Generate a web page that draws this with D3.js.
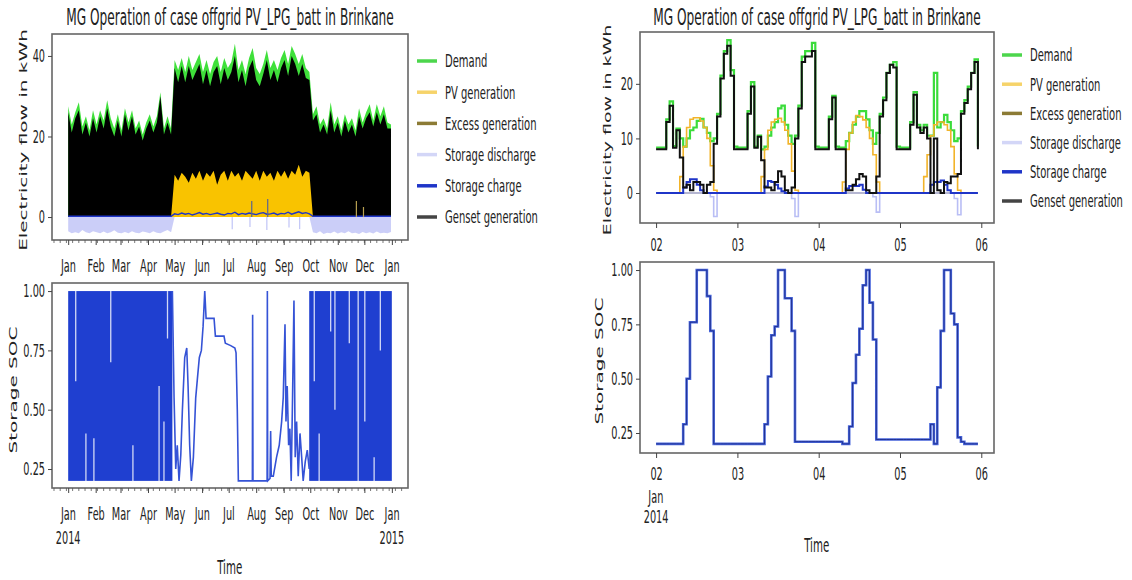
<!DOCTYPE html>
<html>
<head lang="en">
    <meta charset="UTF-8">
    <title></title>
    <script src="https://cdnjs.cloudflare.com/ajax/libs/d3/7.8.5/d3.min.js"></script>
    <style>
        body { margin: 0; background: #fff; }
        text { font-family: "DejaVu Sans", sans-serif; fill: #222; }
    </style>
</head>
<body>

<script>

    // ---------- data ----------
    var seriesNames = ["Demand", "PV generation", "Excess generation", "Storage discharge", "Storage charge", "Genset generation"];
    var chartTitle = "MG Operation of case offgrid PV_LPG_batt in Brinkane";
    var monthLabels = ["Jan", "Feb", "Mar", "Apr", "May", "Jun", "Jul", "Aug", "Sep", "Oct", "Nov", "Dec", "Jan"];
    var dayLabels = ["02", "03", "04", "05", "06"];
    var flowTicksYear = [0, 20, 40];
    var flowTicksWeek = [0, 10, 20];
    var socTicks = [0.25, 0.5, 0.75, 1.0];

    // whole year 2014, one sample every 4 days (day 0 = 1 Jan)
    var yearStep = 4;
    var yearDemand = [
        27.5, 23, 26, 28.5, 22.5, 25, 21.5, 26.5, 23, 26.5,
        24, 29, 24.5, 22, 25.5, 21.5, 27, 23.5, 26.5, 22,
        24, 20.5, 23.5, 25.5, 22.5, 25, 31, 22, 25, 22,
        39, 36.5, 39.5, 36, 40, 36.5, 38.5, 40.5, 36, 39,
        35.5, 38.5, 40, 36, 39.5, 37, 38.5, 43, 36.5, 39,
        35.5, 39.5, 42, 37, 35.5, 38, 41.5, 37, 39, 36.5,
        39.5, 41.5, 38, 42.5, 40.5, 38, 40.5, 37, 36, 25.5,
        27.5, 23, 24.5, 22, 28.5, 23, 25, 21.5, 25.5, 23,
        24.5, 21.5, 27, 23.5, 26, 28, 24, 28, 25, 27.5,
        23.5, 23
    ];
    var yearGenset = [
        26, 21, 24.5, 26.5, 20.5, 23.5, 20, 24.5, 21, 25,
        22, 27, 22.5, 20, 24, 20, 25.5, 21.5, 25, 20.5,
        22.5, 19, 22, 24, 21, 23.5, 30, 20.5, 23.5, 20.5,
        37, 33.5, 37.5, 33.5, 37.5, 34, 36, 38, 33, 36.5,
        32.5, 36, 37.5, 33, 37, 34, 36, 40, 33.5, 36.5,
        32.5, 37, 39, 34, 32.5, 35.5, 39, 34, 36.5, 33.5,
        37, 39, 35, 40, 38, 35, 38, 34.5, 34, 24,
        25.5, 21, 23, 20.5, 26.5, 21, 23.5, 20, 24, 21,
        23, 20, 25, 22, 24.5, 26, 22.5, 26, 23, 25.5,
        22, 22
    ];
    var yearPV = [
        0, 0, 0, 0, 0, 0, 0, 0, 0, 0,
        0, 0, 0, 0, 0, 0, 0, 0, 0, 0,
        0, 0, 0, 0, 0, 0, 0, 0, 0, 0,
        10.5, 9, 11, 10, 8.5, 11, 9.5, 11.5, 9, 11,
        10, 11.5, 8, 10.5, 11.5, 9, 11.5, 10, 11, 9,
        11.5, 10.5, 9.5, 11.5, 9, 11.5, 10, 11, 9, 11.5,
        10, 11.5, 9.5, 11.5, 10.5, 13, 10, 11.5, 11, 0,
        0, 0, 0, 0, 0, 0, 0, 0, 0, 0,
        0, 0, 0, 0, 0, 0, 0, 0, 0, 0,
        0, 0
    ];
    var yearDischarge = [
        -3.5, -4, -3.8, -4, -3.2, -3.8, -4, -3.5, -3.8, -4,
        -3.6, -4, -3.8, -3.3, -3.9, -4, -3.7, -4, -3.5, -3.9,
        -4, -3.6, -3.8, -4, -3.5, -3.9, -4, -3.6, -3.2, -3.8,
        0, 0, 0, 0, 0, 0, 0, 0, 0, 0,
        0, 0, 0, 0, 0, 0, 0, 0, 0, 0,
        0, 0, 0, 0, 0, 0, 0, 0, 0, 0,
        0, 0, 0, 0, 0, 0, 0, 0, 0, -3.8,
        -4, -3.5, -4.2, -3.9, -4, -3.6, -4.1, -3.8, -4, -3.5,
        -4, -3.9, -4.2, -3.7, -4, -3.8, -4.1, -3.6, -4, -3.9,
        -4, -3.7
    ];
    var yearCharge = [
        0.2, 0.2, 0.2, 0.2, 0.2, 0.2, 0.2, 0.2, 0.2, 0.2,
        0.2, 0.2, 0.2, 0.2, 0.2, 0.2, 0.2, 0.2, 0.2, 0.2,
        0.2, 0.2, 0.2, 0.2, 0.2, 0.2, 0.2, 0.2, 0.2, 0.2,
        0.8, 0.6, 1, 0.7, 0.9, 0.5, 0.8, 1.1, 0.7, 0.9,
        0.6, 0.8, 1, 0.7, 0.5, 0.9, 0.8, 1.2, 0.6, 0.9,
        0.7, 1, 0.8, 0.6, 0.9, 1.1, 0.7, 0.8, 1, 0.6,
        0.9, 0.8, 1.2, 0.7, 1, 1.3, 0.9, 1.1, 0.8, 0.2,
        0.2, 0.2, 0.2, 0.2, 0.2, 0.2, 0.2, 0.2, 0.2, 0.2,
        0.2, 0.2, 0.2, 0.2, 0.2, 0.2, 0.2, 0.2, 0.2, 0.2,
        0.2, 0.2
    ];
    // single hours that stick out: [day of year, kWh]
    var yearDischargeSpikes = [[185, -3], [205, -2.5], [224, -3.2], [249, -2.6], [261, -3]];
    var yearChargeSpikes = [[207, 4], [225, 4.5]];
    var yearExcessSpikes = [[325, 4], [333, 2.5]];

    // storage SOC over the year
    var socBlocks = [[0, 117.5], [271.8, 364.96]];   // days where SOC swings 0.2 <-> 1.0 every day
    var socBlockRange = [0.2, 1.0];
    var socGaps = [   // [day, low, high] where the daily swing stayed short
        [8.5, 0.62, 1.0], [20, 0.2, 0.40], [29, 0.2, 0.38], [48, 0.70, 1.0], [73, 0.2, 0.35],
        [102.5, 0.2, 0.6], [108, 0.2, 0.45], [112, 0.8, 1.0],
        [277.5, 0.62, 1.0], [283, 0.2, 0.4], [296, 0.83, 1.0], [300.8, 0.5, 1.0], [317, 0.78, 1.0],
        [327, 0.2, 1.0], [334.5, 0.45, 1.0], [345, 0.2, 0.3], [352, 0.75, 1.0]
    ];
    var socSummer = [
        [117.5, 1.0], [119.4, 0.55], [121.3, 0.25], [123, 0.35], [125, 0.2], [127, 0.31], [128.8, 0.5],
        [131.4, 0.72], [133.7, 0.76], [135.2, 0.6], [137, 0.35], [138.9, 0.2], [141.2, 0.3], [143.8, 0.55],
        [145.7, 0.63], [147.9, 0.72], [150.2, 0.75], [152.1, 0.85], [154, 1.0], [155.5, 0.885], [164.5, 0.885],
        [166, 0.81], [175.7, 0.81], [177.2, 0.78], [183.3, 0.77], [188, 0.76], [189.3, 0.74], [190.7, 0.5],
        [191.9, 0.2], [207.7, 0.2], [208, 0.9], [208.4, 0.2], [224.3, 0.2], [224.6, 1.0], [225, 0.2],
        [227.6, 0.21], [228.3, 0.41], [229, 0.22], [231.3, 0.22], [235, 0.3], [238, 0.35], [240.7, 0.45],
        [242.5, 0.55], [244.5, 0.86], [245.6, 0.45], [247, 0.6], [248.6, 0.35], [250, 0.42], [251.5, 0.2],
        [253, 0.55], [254.6, 0.96], [256, 0.3], [257.6, 0.45], [259.4, 0.22], [261.4, 0.4], [263.3, 0.3],
        [265, 0.2], [267.3, 0.28], [269.6, 0.33], [271.8, 0.25]
    ];

    // 2 Jan 00:00 to 5 Jan 23:00, hourly
    var weekDemand = [
        8.3, 8.3, 8.3, 13.5, 16.8, 8.6, 11.8, 10, 8.5, 10, 11.5, 12, 13.2, 13.6, 12, 11, 9.5, 10, 14.5, 21.5, 26, 28, 22.5, 8.5,
        8.3, 8.3, 8.3, 15, 20.3, 8.5, 10.5, 8, 8.5, 10.5, 12, 13, 15.5, 16, 12.5, 10.5, 9, 10.5, 16, 25, 26, 26, 27.5, 8.5,
        8.3, 8.3, 8.3, 14, 17.8, 8.5, 8.3, 8.3, 9.5, 11, 12.5, 14, 15, 15, 13.5, 11.5, 9, 11, 14.5, 17.5, 22, 23.5, 24, 8.5,
        8.3, 8.3, 8.3, 13, 18.5, 12.5, 11.5, 12.5, 10.5, 10.5, 22, 12, 13, 14.3, 13, 11.5, 9.5, 10, 15, 17, 19.5, 22, 24.5, 8.5
    ];
    var weekPV = [
        0, 0, 0, 0, 0, 0, 0, 3, 8.5, 12, 13.5, 13.8, 13.8, 13.2, 12, 10, 5, 0.5, 0, 0, 0, 0, 0, 0,
        0, 0, 0, 0, 0, 0, 0, 3, 8, 11.5, 13, 13.5, 13.7, 13, 11.5, 9, 4, 0.5, 0, 0, 0, 0, 0, 0,
        0, 0, 0, 0, 0, 0, 0, 2, 8, 11, 13, 14.2, 14, 13.4, 12, 10, 7, 2, 0, 0, 0, 0, 0, 0,
        0, 0, 0, 0, 0, 0, 0, 3, 7, 10.5, 12.5, 13, 13, 12.5, 11.5, 8.5, 3.5, 0.5, 0, 0, 0, 0, 0, 0
    ];
    var weekExcess = [
        0, 0, 0, 0, 0, 0, 0, 0, 0, 0, 0, 0, 0, 0, 0, 0, 0, 0, 0, 0, 0, 0, 0, 0,
        0, 0, 0, 0, 0, 0, 0, 0, 0, 0, 0, 0, 0, 0, 0, 0, 0, 0, 0, 0, 0, 0, 0, 0,
        0, 0, 0, 0, 0, 0, 0, 0, 0, 0, 0, 0, 0, 0, 0, 0, 0, 0, 0, 0, 0, 0, 0, 0,
        0, 0, 0, 0, 0, 0, 0, 0, 0, 0, 0, 0, 0, 0, 0, 0, 0, 0, 0, 0, 0, 0, 0, 0
    ];
    var weekDischarge = [
        0, 0, 0, 0, 0, 0, 0, 0, 0, 0, 0, 0, 0, 0, 0, 0, -0.7, -4.3, 0, 0, 0, 0, 0, 0,
        0, 0, 0, 0, 0, 0, 0, 0, 0, 0, 0, 0, 0, 0, 0, 0, -1, -4.3, 0, 0, 0, 0, 0, 0,
        0, 0, 0, 0, 0, 0, 0, 0, 0, 0, 0, 0, 0, 0, 0, 0, -0.7, -3.5, 0, 0, 0, 0, 0, 0,
        0, 0, 0, 0, 0, 0, 0, 0, 0, 0, 0, 0, 0, 0, 0, 0, -1, -4, 0, 0, 0, 0, 0, 0
    ];
    var weekCharge = [
        0, 0, 0, 0, 0, 0, 0, 0, 1, 2, 2.5, 2.5, 1.5, 0.5, 0, 0, 0, 0, 0, 0, 0, 0, 0, 0,
        0, 0, 0, 0, 0, 0, 0, 0, 1.2, 2.2, 2, 1.5, 0.8, 0.3, 0, 0, 0, 0, 0, 0, 0, 0, 0, 0,
        0, 0, 0, 0, 0, 0, 0, 0, 0.8, 1.3, 1.3, 1.3, 1.5, 0.6, 0, 0, 0, 0, 0, 0, 0, 0, 0, 0,
        0, 0, 0, 0, 0, 0, 0, 0, 0, 1.5, 2, 2, 2.3, 1.5, 0.5, 0, 0, 0, 0, 0, 0, 0, 0, 0
    ];
    var weekGenset = [
        8, 8, 8, 13, 16, 8.3, 11.5, 6.5, 1, 1.5, 0.5, 2, 2, 1.5, 0, 1.5, 2, 9, 14, 21, 25.5, 27, 21.5, 8,
        8, 8, 8, 14.5, 19.5, 8.3, 10.3, 6, 1, 1, 0.5, 2, 4, 3, 0.5, 0, 1, 10, 15.5, 24, 25, 25, 26, 8,
        8, 8, 8, 13.5, 17.5, 8, 8, 8, 0.5, 0.5, 1.5, 2.5, 3.5, 3, 0.5, 0, 0, 3, 14, 17, 22, 23.5, 23, 8,
        8, 8, 8, 12.5, 18, 12, 11, 12, 10, 0, 10, 0.5, 0, 2, 1.8, 3, 3, 3.5, 14.5, 16.5, 19, 22, 24, 8
    ];
    var weekSOC = [
        0.2, 0.2, 0.2, 0.2, 0.2, 0.2, 0.2, 0.2, 0.29, 0.5, 0.76, 0.76, 1, 1, 1, 0.88, 0.72, 0.2, 0.2, 0.2, 0.2, 0.2, 0.2, 0.2,
        0.2, 0.2, 0.2, 0.2, 0.2, 0.2, 0.2, 0.2, 0.29, 0.51, 0.7, 0.74, 1, 1, 0.87, 0.87, 0.72, 0.21, 0.21, 0.21, 0.21, 0.21, 0.21, 0.21,
        0.21, 0.21, 0.21, 0.21, 0.21, 0.21, 0.21, 0.2, 0.2, 0.28, 0.48, 0.61, 0.73, 0.93, 1, 0.85, 0.68, 0.22, 0.22, 0.22, 0.22, 0.22, 0.22, 0.22,
        0.22, 0.22, 0.22, 0.22, 0.22, 0.22, 0.22, 0.22, 0.22, 0.29, 0.2, 0.46, 0.72, 1, 1, 0.8, 0.75, 0.23, 0.21, 0.2, 0.2, 0.2, 0.2, 0.2
    ];

    // ---------- styles ----------
    var lineColors = ["#3bdc3b", "#f2b42a", "#8c7b35", "#b9bef5", "#1f35c8", "#111111"];
    var legendColors = ["#4cd64c", "#f6d36a", "#8c7b35", "#d3d6f7", "#1f35c8", "#444444"];
    var K = 0.54;   // the picture is squeezed sideways, so is every label

    var yearStart = new Date(2014, 0, 1);
    var weekStart = new Date(2014, 0, 2);
    function dayToDate(d) { return new Date(yearStart.getTime() + d * 864e5); }
    function hourToDate(h) { return new Date(weekStart.getTime() + h * 36e5); }

    var svg = d3.select("body").append("svg")
            .attr("width", 1132)
            .attr("height", 580)
            .style("background", "#fff");

    function squeeze(sel, origin) {
        sel.style("transform-box", "fill-box")
           .style("transform-origin", origin)
           .style("transform", "scaleX(" + K + ")");
    }

    // ---------- scales ----------
    var xYear = d3.scaleTime().domain([dayToDate(-18.25), dayToDate(383.2)]).range([52, 408]);
    var yFlowYear = d3.scaleLinear().domain([-5.7, 45.45]).range([240, 34]);
    var ySocYear = d3.scaleLinear().domain([0.17, 1.034]).range([488, 283]);
    var xWeek = d3.scaleTime().domain([hourToDate(-4.75), hourToDate(99.75)]).range([640, 994]);
    var yFlowWeek = d3.scaleLinear().domain([-5.5, 29.5]).range([223, 32]);
    var ySocWeek = d3.scaleLinear().domain([0.158, 1.037]).range([453, 262]);

    function yearX(d, i) { return xYear(dayToDate(i * yearStep)); }

    // ---------- left top: flows over the year ----------
    function yearArea(values, color, opacity) {
        svg.append("path")
            .datum(values)
            .attr("d", d3.area().x(yearX).y0(yFlowYear(0)).y1(function(d){ return yFlowYear(d); }))
            .attr("fill", color)
            .attr("fill-opacity", opacity);
    }
    yearArea(yearDemand, "#3fe03a", 1);
    yearArea(yearGenset, "#000000", 1);
    yearArea(yearPV, "#f9c300", 1);
    yearArea(yearDischarge, "#c5c9f7", 0.9);

    svg.append("path")
        .datum(yearCharge)
        .attr("d", d3.line().x(yearX).y(function(d){ return yFlowYear(d); }))
        .attr("fill", "none")
        .attr("stroke", "#1f35c8")
        .attr("stroke-width", 1.4);

    function spikes(list, color, width) {
        svg.selectAll(null)
            .data(list)
            .enter()
            .append("line")
            .attr("x1", function(d){ return xYear(dayToDate(d[0])); })
            .attr("x2", function(d){ return xYear(dayToDate(d[0])); })
            .attr("y1", yFlowYear(0))
            .attr("y2", function(d){ return yFlowYear(d[1]); })
            .attr("stroke", color)
            .attr("stroke-width", width);
    }
    spikes(yearDischargeSpikes, "#c5c9f7", 1.3);
    spikes(yearChargeSpikes, "#5a6590", 1.2);
    spikes(yearExcessSpikes, "#b8a050", 1.2);

    // ---------- left bottom: SOC over the year ----------
    svg.selectAll(null)
        .data(socBlocks)
        .enter()
        .append("rect")
        .attr("x", function(d){ return xYear(dayToDate(d[0])); })
        .attr("width", function(d){ return xYear(dayToDate(d[1])) - xYear(dayToDate(d[0])); })
        .attr("y", ySocYear(socBlockRange[1]))
        .attr("height", ySocYear(socBlockRange[0]) - ySocYear(socBlockRange[1]))
        .attr("fill", "#1f3fd0");

    svg.selectAll(null)
        .data(socGaps)
        .enter()
        .append("line")
        .attr("x1", function(d){ return xYear(dayToDate(d[0])); })
        .attr("x2", function(d){ return xYear(dayToDate(d[0])); })
        .attr("y1", function(d){ return ySocYear(d[1]); })
        .attr("y2", function(d){ return ySocYear(d[2]); })
        .attr("stroke", "#ffffff")
        .attr("stroke-opacity", 0.8)
        .attr("stroke-width", 1.3);

    svg.append("path")
        .datum(socSummer)
        .attr("d", d3.line().x(function(d){ return xYear(dayToDate(d[0])); }).y(function(d){ return ySocYear(d[1]); }))
        .attr("fill", "none")
        .attr("stroke", "#3553d6")
        .attr("stroke-width", 1.6);

    // ---------- right top: flows over four days ----------
    var weekSeries = [weekDemand, weekPV, weekExcess, weekDischarge, weekCharge, weekGenset];
    var weekWidths = [2.2, 1.6, 1.5, 1.6, 2, 2];
    var weekLine = d3.line()
            .curve(d3.curveStepAfter)
            .x(function(d, i){ return xWeek(hourToDate(i)); })
            .y(function(d){ return yFlowWeek(d); });
    weekSeries.forEach(function(values, k){
        svg.append("path")
            .datum(values)
            .attr("d", weekLine)
            .attr("fill", "none")
            .attr("stroke", lineColors[k])
            .attr("stroke-width", weekWidths[k]);
    });

    // ---------- right bottom: SOC over four days ----------
    var socLine = d3.line()
            .curve(d3.curveStepAfter)
            .x(function(d, i){ return xWeek(hourToDate(i)); })
            .y(function(d){ return ySocWeek(d); });
    svg.append("path").datum(weekSOC).attr("d", socLine)
        .attr("fill", "none").attr("stroke", "#4866dc").attr("stroke-width", 2.6);
    svg.append("path").datum(weekSOC).attr("d", socLine)
        .attr("fill", "none").attr("stroke", "#1d2c8c").attr("stroke-width", 0.9);

    // ---------- frames and axes ----------
    function frame(x0, y0, x1, y1) {
        svg.append("rect")
            .attr("x", x0).attr("y", y0)
            .attr("width", x1 - x0).attr("height", y1 - y0)
            .attr("fill", "none")
            .attr("stroke", "#666")
            .attr("stroke-width", 1.6);
    }
    frame(52, 34, 408, 240);
    frame(52, 283, 408, 488);
    frame(640, 32, 994, 223);
    frame(640, 262, 994, 453);

    var monthTicks = d3.timeMonth.range(new Date(2014, 0, 1), new Date(2015, 0, 2));
    var dayTicks = d3.timeDay.range(new Date(2014, 0, 2), new Date(2014, 0, 7));
    var weekMinor = d3.timeMonday.range(dayToDate(-18), dayToDate(383));

    function bottomAxis(scale, y, values, labels, padding) {
        var g = svg.append("g")
                .attr("transform", "translate(0," + y + ")")
                .call(d3.axisBottom(scale)
                    .tickValues(values)
                    .tickFormat(function(d, i){ return labels[i]; })
                    .tickSize(5)
                    .tickPadding(padding));
        g.select(".domain").remove();
        g.selectAll("line").attr("stroke", "#444");
        g.selectAll("text").attr("font-size", 18).call(squeeze, "center");
    }
    function minorTicks(y) {
        svg.selectAll(null)
            .data(weekMinor)
            .enter()
            .append("line")
            .attr("x1", function(d){ return xYear(d); })
            .attr("x2", function(d){ return xYear(d); })
            .attr("y1", y)
            .attr("y2", y + 3)
            .attr("stroke", "#555")
            .attr("stroke-width", 0.8);
    }
    function leftAxis(scale, x, values, fmt) {
        var g = svg.append("g")
                .attr("transform", "translate(" + x + ",0)")
                .call(d3.axisLeft(scale).tickValues(values).tickFormat(fmt).tickSize(4).tickPadding(3));
        g.select(".domain").remove();
        g.selectAll("line").attr("stroke", "#444");
        g.selectAll("text").attr("font-size", 18).call(squeeze, "right center");
    }

    minorTicks(240);
    minorTicks(488);
    bottomAxis(xYear, 240, monthTicks, monthLabels, 14);
    bottomAxis(xYear, 488, monthTicks, monthLabels, 14);
    bottomAxis(xWeek, 223, dayTicks, dayLabels, 10);
    bottomAxis(xWeek, 453, dayTicks, dayLabels, 9);
    leftAxis(yFlowYear, 52, flowTicksYear, d3.format("d"));
    leftAxis(ySocYear, 52, socTicks, d3.format(".2f"));
    leftAxis(yFlowWeek, 640, flowTicksWeek, d3.format("d"));
    leftAxis(ySocWeek, 640, socTicks, d3.format(".2f"));

    // second line of the date labels
    function label(x, y, txt, size) {
        svg.append("text")
            .attr("x", x).attr("y", y)
            .attr("dy", "0.35em")
            .attr("text-anchor", "middle")
            .attr("font-size", size)
            .text(txt)
            .call(squeeze, "center");
    }
    label(xYear(new Date(2014, 0, 1)), 538, "2014", 18);
    label(xYear(new Date(2015, 0, 1)), 538, "2015", 18);
    label(xWeek(new Date(2014, 0, 2)), 497, "Jan", 18);
    label(xWeek(new Date(2014, 0, 2)), 517, "2014", 18);

    // titles and axis names
    label(230, 17, chartTitle, 22.5);
    label(817, 17, chartTitle, 22.5);
    label(230, 567, "Time", 19);
    label(817, 545, "Time", 19);

    function yLabel(x, y, txt, size) {
        svg.append("text")
            .attr("transform", "translate(" + x + "," + y + ") scale(" + K + ",1) rotate(-90)")
            .attr("text-anchor", "middle")
            .attr("dy", "0.35em")
            .attr("font-size", size)
            .text(txt);
    }
    yLabel(23, 140, "Electricity flow in kWh", 20);
    yLabel(13, 390, "Storage SOC", 20);
    yLabel(607, 130, "Electricity flow in kWh", 19);
    yLabel(599, 361, "Storage SOC", 20);

    // ---------- legends ----------
    function legend(x0, yTop, step) {
        seriesNames.forEach(function(name, i){
            var y = yTop + i * step;
            svg.append("line")
                .attr("x1", x0).attr("x2", x0 + 20)
                .attr("y1", y).attr("y2", y)
                .attr("stroke", legendColors[i])
                .attr("stroke-width", 3.5);
            svg.append("text")
                .attr("x", x0 + 28).attr("y", y)
                .attr("dy", "0.35em")
                .attr("font-size", 18.5)
                .text(name)
                .call(squeeze, "left center");
        });
    }
    legend(417, 61, 31.2);
    legend(1002, 55, 29.2);

</script>

</body>
</html>
